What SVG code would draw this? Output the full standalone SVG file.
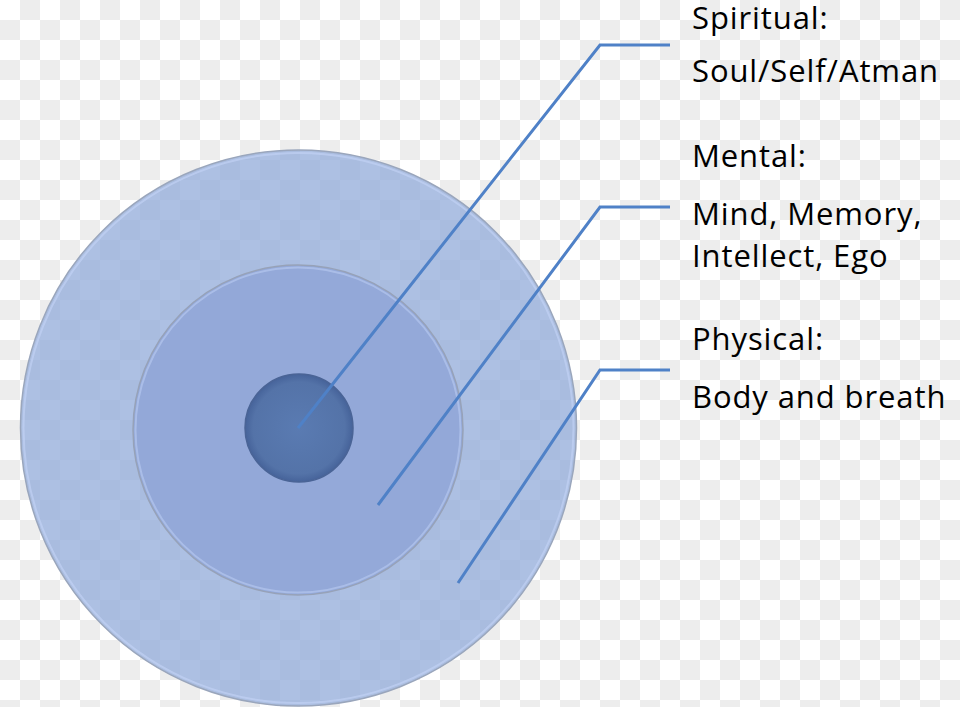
<svg xmlns="http://www.w3.org/2000/svg" width="960" height="707" viewBox="0 0 960 707">
<style>
.lbl{font-family:"Open Sans","Liberation Sans",sans-serif;font-size:31px;letter-spacing:0.9px;fill:#000}
.con{fill:none;stroke:#4F81C7;stroke-width:3;stroke-linejoin:miter}
</style>
<defs>
<pattern id="chk" width="40" height="40" patternUnits="userSpaceOnUse">
<rect width="40" height="40" fill="#FFFFFF"/>
<rect x="20" y="0" width="20" height="20" fill="#EDEDED"/>
<rect x="0" y="20" width="20" height="20" fill="#EDEDED"/>
</pattern>
<radialGradient id="gInner" cx="0.5" cy="0.5" r="0.5">
<stop offset="0" stop-color="#5A7BB2"/>
<stop offset="0.85" stop-color="#5473A8"/>
<stop offset="1" stop-color="#46639A"/>
</radialGradient>
</defs>
<rect width="960" height="707" fill="url(#chk)"/>
<g id="physical">
<circle cx="298.5" cy="428" r="278" fill="#92ABDA" fill-opacity="0.75" stroke="#9AA6BC" stroke-width="1.5"/>
<circle cx="298.5" cy="428" r="275" fill="none" stroke="#C4D4F6" stroke-width="2" stroke-opacity="0.6"/>
</g>
<g id="mental">
<circle cx="298" cy="430" r="165" fill="#8DA3D6" fill-opacity="0.8" stroke="#97A2B8" stroke-width="1.5"/>
<circle cx="298" cy="430" r="162.5" fill="none" stroke="#B9CBF2" stroke-width="2" stroke-opacity="0.6"/>
</g>
<g id="spiritual">
<circle cx="299" cy="428" r="54" fill="url(#gInner)" stroke="#4A6496" stroke-width="1.5"/>
</g>
<g id="connectors">
<polyline class="con" points="298,428 600,45 670,45"/>
<polyline class="con" points="378,505 600,207 670,207"/>
<polyline class="con" points="458,583 600,370 670,370"/>
</g>
<g id="labels">
<text class="lbl" x="692" y="29">Spiritual:</text>
<text class="lbl" x="692" y="82">Soul/Self/Atman</text>
<text class="lbl" x="692" y="167">Mental:</text>
<text class="lbl" x="692" y="225">Mind, Memory,</text>
<text class="lbl" x="692" y="267">Intellect, Ego</text>
<text class="lbl" x="692" y="350">Physical:</text>
<text class="lbl" x="692" y="408">Body and breath</text>
</g>
</svg>
